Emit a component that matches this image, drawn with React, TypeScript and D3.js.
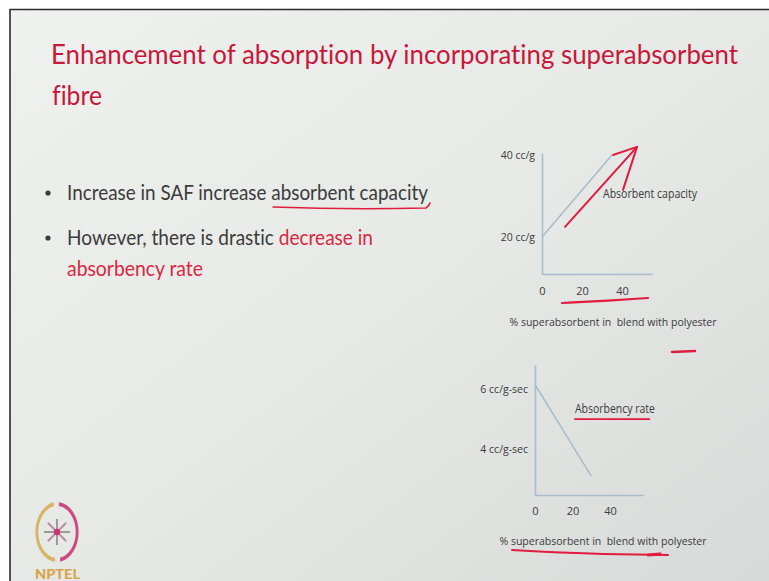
import React, { useRef, useEffect } from 'react';
import * as d3 from 'd3';

const W = 769;
const H = 581;

// upper chart: absorbent capacity against % SAF
const capacityPct = [0, 35];
const capacityVal = [20, 40];
const capacityTicks = [20, 40];
const capacityTickLabels = ['20 cc/g', '40 cc/g'];

// lower chart: absorbency rate against % SAF
const ratePct = [0, 30];
const rateVal = [6.15, 3.1];
const rateTicks = [6, 4];
const rateTickLabels = ['6 cc/g-sec', '4 cc/g-sec'];

// shared x ticks
const pctTicks = [0, 20, 40];
const pctTickLabels = ['0', '20', '40'];

const xTitle = '% superabsorbent in  blend with polyester';
const capacityLabel = 'Absorbent capacity';
const rateLabel = 'Absorbency rate';

const NARROW = "'Liberation Sans Narrow', 'Open Sans', Lato, sans-serif";
const BODY = "Lato, 'Open Sans', sans-serif";
const AXIS_COL = '#a9bccd';
const INK = '#e11c3e';
const TEXT_DARK = '#3b3b3b';
const TEXT_RED = '#d8283f';

const App = () => {
  const svgRef = useRef(null);

  useEffect(() => {
    if (!svgRef.current) return;
    const svg = d3.select(svgRef.current);
    svg.selectAll('*').remove();
    svg.style('font-variant-ligatures', 'none');

    // background: white page, dark frame, slide gradient
    const defs = svg.append('defs');
    const grad = defs.append('linearGradient')
      .attr('id', 'slideBg')
      .attr('x1', 0).attr('y1', 0).attr('x2', 1).attr('y2', 1);
    grad.append('stop').attr('offset', 0).attr('stop-color', '#eff1ef');
    grad.append('stop').attr('offset', 0.5).attr('stop-color', '#e6e9e6');
    grad.append('stop').attr('offset', 1).attr('stop-color', '#d7dad8');

    svg.append('rect').attr('width', W).attr('height', H).attr('fill', '#ffffff');
    svg.append('rect').attr('x', 10).attr('y', 9).attr('width', W - 10).attr('height', H - 9)
      .attr('fill', 'url(#slideBg)');
    svg.append('path').attr('d', `M10,${H} V9.5 H${W}`)
      .attr('fill', 'none').attr('stroke', '#2b2b2b').attr('stroke-width', 1.6);

    // title
    const title = svg.append('g').attr('font-family', BODY).attr('fill', '#c8173a');
    title.append('text').attr('x', 51).attr('y', 64).attr('font-size', 27)
      .attr('textLength', 687).attr('lengthAdjust', 'spacingAndGlyphs')
      .text('Enhancement of absorption by incorporating superabsorbent');
    title.append('text').attr('x', 52).attr('y', 105).attr('font-size', 27)
      .attr('textLength', 50).attr('lengthAdjust', 'spacingAndGlyphs')
      .text('fibre');

    // bullets
    const body = svg.append('g').attr('font-family', BODY).attr('font-size', 21);
    const bullet = (y) => body.append('circle').attr('cx', 48).attr('cy', y).attr('r', 2.6).attr('fill', TEXT_DARK);
    const line = (x, y, len, parts) => {
      const t = body.append('text').attr('x', x).attr('y', y)
        .attr('textLength', len).attr('lengthAdjust', 'spacingAndGlyphs')
        .style('white-space', 'pre');
      parts.forEach(([txt, col]) => t.append('tspan').attr('fill', col).text(txt));
      return t;
    };
    bullet(193);
    line(67, 200, 361, [['Increase in SAF increase absorbent capacity', TEXT_DARK]]);
    bullet(238);
    line(67, 245, 306, [['However, there is drastic ', TEXT_DARK], ['decrease in', TEXT_RED]]);
    line(67, 276, 136, [['absorbency rate', TEXT_RED]]);
    // hand-drawn underline under "absorbent capacity"
    svg.append('path')
      .attr('d', 'M273,207 Q350,210 426,208 Q429,206 430,203')
      .attr('fill', 'none').attr('stroke', INK).attr('stroke-width', 1.6).attr('stroke-linecap', 'round');

    const styleAxis = (g) => {
      g.attr('font-family', NARROW).attr('font-size', 10.5);
      g.select('.domain').attr('stroke', AXIS_COL).attr('stroke-width', 1.6);
      g.selectAll('.tick text').attr('fill', TEXT_DARK);
      g.selectAll('.tick line').remove();
    };

    const drawChart = ({ x, y, ticks, tickLabels, xs, ys, label, labelPos, titleY, xPad }) => {
      const g = svg.append('g');
      const x0 = x.range()[0];
      const yBottom = y.range()[0];

      g.append('g').attr('transform', `translate(${x0},0)`)
        .call(d3.axisLeft(y).tickValues(ticks).tickFormat((d, i) => tickLabels[i])
          .tickSize(0).tickSizeOuter(0).tickPadding(7))
        .call(styleAxis);

      g.append('g').attr('transform', `translate(0,${yBottom})`)
        .call(d3.axisBottom(x).tickValues(pctTicks).tickFormat((d, i) => pctTickLabels[i])
          .tickSize(0).tickSizeOuter(0).tickPadding(xPad))
        .call(styleAxis)
        .selectAll('.tick text').attr('font-size', 11);

      const pts = xs.map((v, i) => [x(v), y(ys[i])]);
      g.append('path').attr('d', d3.line()(pts))
        .attr('fill', 'none').attr('stroke', AXIS_COL).attr('stroke-width', 1.5);

      g.append('text').attr('x', x(labelPos[0])).attr('y', y(labelPos[1]))
        .attr('font-family', NARROW).attr('font-size', 12).attr('fill', TEXT_DARK)
        .attr('textLength', label.len).attr('lengthAdjust', 'spacingAndGlyphs')
        .text(label.text);

      g.append('text').attr('x', titleY.cx).attr('y', titleY.y)
        .attr('text-anchor', 'middle').style('white-space', 'pre')
        .attr('font-family', NARROW).attr('font-size', 11.5).attr('fill', TEXT_DARK)
        .attr('textLength', 207).attr('lengthAdjust', 'spacingAndGlyphs')
        .text(xTitle);
      return g;
    };

    // upper chart
    const xCap = d3.scaleLinear().domain([0, 55]).range([542, 652]);
    const yCap = d3.scaleLinear().domain([11, 40.5]).range([274, 153]);
    drawChart({
      x: xCap, y: yCap, ticks: capacityTicks, tickLabels: capacityTickLabels,
      xs: capacityPct, ys: capacityVal,
      label: { text: capacityLabel, len: 94 }, labelPos: [30.5, 29.5],
      titleY: { cx: 613, y: 326 }, xPad: 13,
    });

    // red arrow + underline on upper chart
    const ink = (d, w = 2) => svg.append('path').attr('d', d)
      .attr('fill', 'none').attr('stroke', INK).attr('stroke-width', w)
      .attr('stroke-linecap', 'round').attr('stroke-linejoin', 'round');
    const cp = (px, v) => [xCap(px), yCap(v)];
    ink(d3.line()([cp(11.5, 22.5), cp(47.5, 42)]));
    ink(d3.line()([cp(35.5, 40), cp(47.5, 42), cp(40.5, 31.5)]));
    ink(d3.line().curve(d3.curveBasis)([[xCap(10), 303], [xCap(30), 301], [xCap(53), 298]]), 2.2);
    ink(d3.line()([[xCap(65), 352], [xCap(76.5), 351]]), 2.4);

    // lower chart
    const xRate = d3.scaleLinear().domain([0, 57.6]).range([535, 643]);
    const yRate = d3.scaleLinear().domain([2.47, 6.8]).range([495, 365]);
    drawChart({
      x: xRate, y: yRate, ticks: rateTicks, tickLabels: rateTickLabels,
      xs: ratePct, ys: rateVal,
      label: { text: rateLabel, len: 80 }, labelPos: [21.3, 5.2],
      titleY: { cx: 603, y: 545 }, xPad: 12,
    });
    ink(d3.line()([[xRate(21.3), yRate(5.0)], [xRate(61), yRate(5.0)]]), 1.8);
    ink(d3.line().curve(d3.curveBasis)([[512, 550], [590, 554], [668, 555]]), 2);
    ink(d3.line()([[648, 555], [660, 554]]), 3);

    // NPTEL logo
    const logo = svg.append('g').attr('transform', 'translate(57,532)');
    const ring = logo.append('g').attr('transform', 'scale(0.72,1)');
    const arc = d3.arc().innerRadius(26).outerRadius(30);
    ring.append('path').attr('d', arc({ startAngle: -Math.PI * 0.97, endAngle: -Math.PI * 0.05 }))
      .attr('fill', '#d4a64a').attr('opacity', 0.8);
    ring.append('path').attr('d', arc({ startAngle: Math.PI * 0.03, endAngle: Math.PI * 0.95 }))
      .attr('fill', '#c42466').attr('opacity', 0.8);
    d3.range(8).forEach(i => {
      const a = (i * Math.PI) / 4;
      logo.append('line').attr('x1', 0).attr('y1', 0)
        .attr('x2', Math.cos(a) * 13).attr('y2', Math.sin(a) * 13)
        .attr('stroke', i % 2 ? '#b98fa3' : '#9c9a9c').attr('stroke-width', 2);
    });
    logo.append('circle').attr('r', 3.2).attr('fill', '#d0307a');
    svg.append('text').attr('x', 35).attr('y', 579).attr('font-family', 'Lato, sans-serif')
      .attr('font-weight', 900).attr('font-size', 13).attr('fill', '#d6a548')
      .attr('textLength', 45).attr('lengthAdjust', 'spacingAndGlyphs').text('NPTEL');
  }, []);

  return (
    <div style={{ position: 'absolute', left: 0, top: 0 }}>
      <svg ref={svgRef} width={W} height={H} style={{ display: 'block' }}></svg>
    </div>
  );
};

export default App;
